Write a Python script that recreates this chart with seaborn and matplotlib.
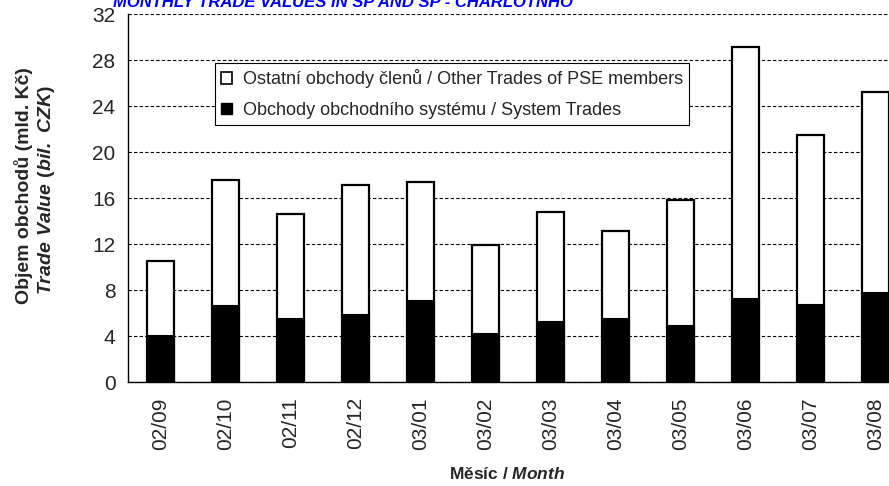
import matplotlib
matplotlib.use("Agg")
import matplotlib.pyplot as plt
from matplotlib.patches import Patch
import seaborn as sns
import pandas as pd

# mesice a hodnoty (mld. Kc)
mesice = ["02/09", "02/10", "02/11", "02/12", "03/01", "03/02",
          "03/03", "03/04", "03/05", "03/06", "03/07", "03/08"]
celkem = [10.5, 17.6, 14.6, 17.1, 17.4, 11.9, 14.8, 13.1, 15.8, 29.1, 21.5, 25.2]
system = [4.1, 6.7, 5.6, 5.9, 7.1, 4.3, 5.3, 5.6, 5.0, 7.3, 6.8, 7.8]
yticks = [0, 4, 8, 12, 16, 20, 24, 28, 32]

df = pd.DataFrame({"mesic": mesice, "celkem": celkem, "system": system})

sns.set_style("white")
plt.rcParams["font.family"] = ["Liberation Sans", "DejaVu Sans"]
plt.rcParams["mathtext.fontset"] = "custom"
plt.rcParams["mathtext.bfit"] = "Liberation Sans:bold:italic"
plt.rcParams["mathtext.rm"] = "Liberation Sans:bold"

fig = plt.figure(figsize=(8.89, 4.86), dpi=100)
ax = fig.add_axes([128 / 889, 1 - 382 / 486, 780 / 889, 368 / 486])

sns.barplot(data=df, x="mesic", y="celkem", color="white", edgecolor="black",
            linewidth=1.6, width=0.42, ax=ax, zorder=3)
sns.barplot(data=df, x="mesic", y="system", color="black", edgecolor="black",
            linewidth=0.8, width=0.42, ax=ax, zorder=4)

ax.set_xlim(-0.5, 11.5)
ax.set_ylim(0, 32)
ax.set_yticks(yticks)
ax.yaxis.grid(True, linestyle=(0, (3, 2)), color="black", linewidth=0.8, zorder=0)
ax.set_axisbelow(True)
for s in ["top", "right"]:
    ax.spines[s].set_visible(False)
for s in ["left", "bottom"]:
    ax.spines[s].set_color("black")
    ax.spines[s].set_linewidth(1.0)

# hlavni ticky mezi sloupci, popisky na vedlejsich
ax.set_xticks([i - 0.5 for i in range(1, 13)], minor=False)
ax.set_xticklabels([])
ax.set_xticks(range(12), minor=True)
ax.set_xticklabels(mesice, minor=True, rotation=90, fontsize=15)
ax.tick_params(axis="x", which="major", direction="inout", length=10, width=0.8)
ax.tick_params(axis="x", which="minor", length=0, pad=11)
ax.tick_params(axis="y", direction="inout", length=10, width=0.8, labelsize=15, pad=4)
ax.set_xlabel("")
ax.set_ylabel("")

fig.text(24 / 889, 1 - 186 / 486, "Objem obchodů (mld. Kč)", rotation=90,
         ha="center", va="center", fontsize=14, fontweight="bold")
fig.text(47 / 889, 1 - 190 / 486, r"$\mathbfit{Trade}\ \mathbfit{Value}\ (\mathbfit{bil.}\ \mathbfit{CZK})$",
         rotation=90, ha="center", va="center", fontsize=14)
fig.text(507 / 889, 1 - 474 / 486, r"Měsíc / $\mathbfit{Month}$",
         ha="center", va="center", fontsize=12.5, fontweight="bold")
fig.text(113 / 889, 1 - 2.5 / 486, "MONTHLY TRADE VALUES IN SP AND SP - CHARLOTNHO",
         ha="left", va="center", fontsize=12, fontweight="bold", fontstyle="italic",
         color="#0000ff")

handles = [Patch(facecolor="white", edgecolor="black", linewidth=1.2),
           Patch(facecolor="black", edgecolor="black")]
labels = ["Ostatní obchody členů / Other Trades of PSE members",
          "Obchody obchodního systému / System Trades"]
leg = ax.legend(handles, labels, loc="upper left", bbox_to_anchor=(87 / 780, 1 - 49 / 368),
                fontsize=13, frameon=True, fancybox=False, framealpha=1,
                edgecolor="black", handlelength=0.6, handleheight=0.6,
                handletextpad=0.6, borderpad=0.35, labelspacing=0.75,
                borderaxespad=0)
leg.get_frame().set_linewidth(0.8)
leg.set_zorder(10)

fig.savefig("out.png", dpi=100)
